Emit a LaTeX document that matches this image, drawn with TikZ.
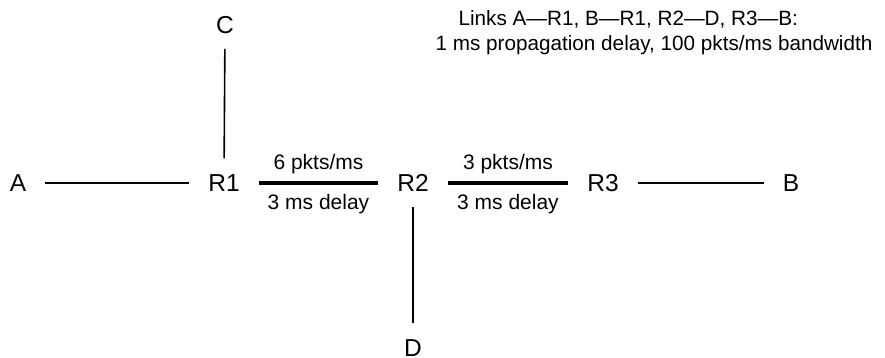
\documentclass[tikz,border=0pt]{standalone}
\usepackage{fontspec}
\setmainfont{Liberation Sans}
\usetikzlibrary{positioning}
\tikzset{
  host/.style={inner sep=0pt,font=\fontsize{24.5}{28}\selectfont},
  link/.style={line width=1.6pt,shorten <=19pt,shorten >=19pt},
  vlink/.style={line width=1.6pt,shorten <=15pt,shorten >=16pt},
  slowlink/.style={line width=3.6pt,shorten <=19pt,shorten >=19pt},
  rate/.style={above,inner sep=7pt,font=\fontsize{21}{25}\selectfont},
  lag/.style={below,inner sep=9pt,font=\fontsize{21}{25}\selectfont}
}
\begin{document}
\begin{tikzpicture}[x=1pt,y=-1pt]
  \useasboundingbox (0,0) rectangle (885,358);
  % hosts and routers
  \node[host] (A) at (18,183) {A};
  \node[host] (R1) at (224,183) {R1};
  \node[host] (R2) at (413,183) {R2};
  \node[host] (R3) at (603,183) {R3};
  \node[host] (B) at (791,183) {B};
  \node[host] (C) at (225,25) {C};
  \node[host] (D) at (413,348) {D};
  % fast links
  \draw[link] (A) -- (R1);
  \draw[link] (R3) -- (B);
  \draw[vlink] (C) -- (R1);
  \draw[vlink] (R2) -- (D);
  % bottleneck links
  \draw[slowlink] (R1) -- node[rate] {6 pkts/ms} node[lag] {3 ms delay} (R2);
  \draw[slowlink] (R2) -- node[rate] {3 pkts/ms} node[lag] {3 ms delay} (R3);
  % note
  \node[align=left,inner sep=0pt,font=\fontsize{20.7}{25}\selectfont] (note) at (654,33)
    {\hspace*{23pt}Links A—R1, B—R1, R2—D, R3—B:\\1 ms propagation delay, 100 pkts/ms bandwidth};
\end{tikzpicture}
\end{document}
